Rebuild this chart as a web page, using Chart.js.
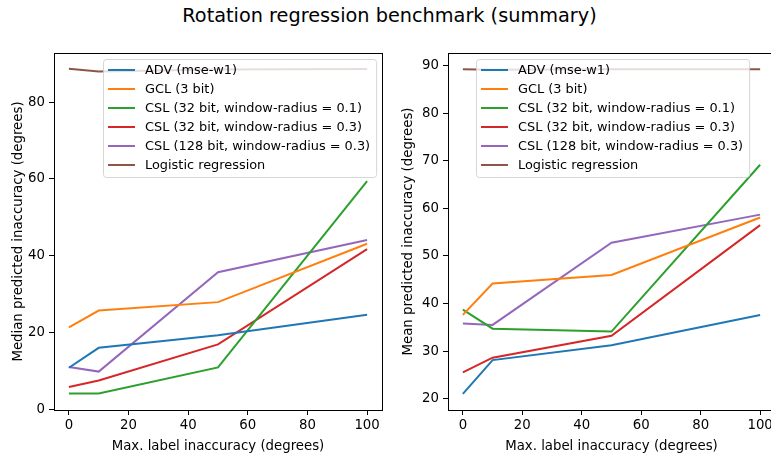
<!DOCTYPE html>
<html>
<head>
<meta charset="utf-8">
<script src="https://cdn.jsdelivr.net/npm/chart.js@4"></script>
<style>
  html, body { margin: 0; padding: 0; background: #fff; overflow: hidden; width: 771px; height: 455px; }
  #title { position: absolute; left: 0; top: 4px; width: 779px; text-align: center;
           font-family: "DejaVu Sans", sans-serif; font-size: 19.3px; color: #000; }
  canvas { position: absolute; top: 0; }
  #left { left: 0; }
  #right { left: 390px; }
</style>
</head>
<body>
<div id="title">Rotation regression benchmark (summary)</div>
<canvas id="left" width="390" height="455"></canvas>
<canvas id="right" width="400" height="455"></canvas>
<script>
// Max. label inaccuracy (x)
const labelNoise = [0, 10, 50, 100];
const seriesNames = [
  'ADV (mse-w1)',
  'GCL (3 bit)',
  'CSL (32 bit, window-radius = 0.1)',
  'CSL (32 bit, window-radius = 0.3)',
  'CSL (128 bit, window-radius = 0.3)',
  'Logistic regression'
];
const colors = ['#1f77b4', '#ff7f0e', '#2ca02c', '#d62728', '#9467bd', '#8c564b'];

// Median (left plot)
const medADV = [10.8, 16.0, 19.3, 24.6];
const medGCL = [21.3, 25.7, 27.9, 43.1];
const medCSL32a = [4.1, 4.1, 10.9, 59.4];
const medCSL32b = [5.8, 7.5, 16.9, 41.7];
const medCSL128 = [11.0, 9.8, 35.7, 44.1];
const medLogReg = [88.7, 88.0, 88.5, 88.6];

// Mean (right plot)
const meanADV = [21.0, 28.1, 31.2, 37.6];
const meanGCL = [37.6, 44.2, 46.0, 58.1];
const meanCSL32a = [38.7, 34.7, 34.1, 69.2];
const meanCSL32b = [25.5, 28.6, 33.2, 56.5];
const meanCSL128 = [35.8, 35.5, 52.8, 58.7];
const meanLogReg = [89.3, 89.2, 89.3, 89.3];

const xTicks = [0, 20, 40, 60, 80, 100];
const medYTicks = [0, 20, 40, 60, 80];
const meanYTicks = [20, 30, 40, 50, 60, 70, 80, 90];

const FONT = '"DejaVu Sans", sans-serif';

function makeDatasets(series) {
  return series.map((vals, i) => ({
    label: seriesNames[i],
    data: labelNoise.map((x, j) => ({ x: x, y: vals[j] })),
    borderColor: colors[i],
    backgroundColor: colors[i],
    borderWidth: 2,
    pointRadius: 0,
    tension: 0,
    fill: false
  }));
}

// frame + matplotlib-like legend inside the axes
const framePlugin = {
  id: 'frame',
  afterDatasetsDraw(chart) {
    const { ctx, chartArea: a } = chart;
    ctx.save();
    ctx.strokeStyle = '#000';
    ctx.lineWidth = 1;
    ctx.strokeRect(Math.round(a.left) + 0.5, Math.round(a.top) + 0.5,
                   Math.round(a.right - a.left), Math.round(a.bottom - a.top));
    // legend
    const opt = chart.options.plugins.mplLegend;
    const fs = 12.9;
    ctx.font = fs + 'px ' + FONT;
    const rowH = 19;
    let maxW = 0;
    chart.data.datasets.forEach(d => { maxW = Math.max(maxW, ctx.measureText(d.label).width); });
    const x0 = a.left + opt.dx, y0 = a.top + 6;
    const w = 42 + maxW + 6, h = rowH * chart.data.datasets.length + 4;
    ctx.beginPath();
    if (ctx.roundRect) ctx.roundRect(x0 + 0.5, y0 + 0.5, w, h, 3); else ctx.rect(x0 + 0.5, y0 + 0.5, w, h);
    ctx.fillStyle = 'rgba(255,255,255,0.8)';
    ctx.fill();
    ctx.strokeStyle = 'rgba(204,204,204,0.8)';
    ctx.stroke();
    ctx.textBaseline = 'middle';
    chart.data.datasets.forEach((d, i) => {
      const yy = y0 + 11 + i * rowH;
      ctx.strokeStyle = d.borderColor;
      ctx.lineWidth = 2;
      ctx.beginPath();
      ctx.moveTo(x0 + 5, yy);
      ctx.lineTo(x0 + 32, yy);
      ctx.stroke();
      ctx.fillStyle = '#000';
      ctx.fillText(d.label, x0 + 42, yy + 1);
    });
    ctx.restore();
  }
};

function makeChart(id, series, yTitle, yMin, yMax, yTicks, yWidth, legendDx, padRight, titlePad) {
  return new Chart(document.getElementById(id), {
    type: 'line',
    data: { datasets: makeDatasets(series) },
    options: {
      responsive: false,
      animation: false,
      layout: { padding: { top: 53, right: padRight, left: 0, bottom: 0 } },
      plugins: {
        legend: { display: false },
        tooltip: { enabled: false },
        mplLegend: { dx: legendDx }
      },
      scales: {
        x: {
          type: 'linear',
          min: -5, max: 105,
          afterBuildTicks: s => { s.ticks = xTicks.map(v => ({ value: v })); },
          afterFit: s => { s.height = 45; s.paddingLeft = 0; s.paddingRight = 0; },
          grid: { drawOnChartArea: false, tickLength: 5, tickColor: '#000', tickWidth: 1 },
          border: { color: '#000', width: 1 },
          ticks: { color: '#000', font: { family: FONT, size: 13.3 }, padding: 3, maxRotation: 0 },
          title: { display: true, text: 'Max. label inaccuracy (degrees)', color: '#000',
                   font: { family: FONT, size: 13.3 }, padding: { top: 1, bottom: 0 } }
        },
        y: {
          type: 'linear',
          min: yMin, max: yMax,
          afterBuildTicks: s => { s.ticks = yTicks.map(v => ({ value: v })); },
          afterFit: s => { s.width = yWidth; s.paddingTop = 0; s.paddingBottom = 0; },
          grid: { drawOnChartArea: false, tickLength: 5, tickColor: '#000', tickWidth: 1 },
          border: { color: '#000', width: 1 },
          ticks: { color: '#000', font: { family: FONT, size: 13.3 }, padding: 4 },
          title: { display: true, text: yTitle, color: '#000',
                   font: { family: FONT, size: 13.3 }, padding: { top: titlePad, bottom: 2 } }
        }
      }
    },
    plugins: [framePlugin]
  });
}

makeChart('left', [medADV, medGCL, medCSL32a, medCSL32b, medCSL128, medLogReg],
  'Median predicted inaccuracy (degrees)', -0.2, 92.8, medYTicks, 54, 49, 8, 11);
makeChart('right', [meanADV, meanGCL, meanCSL32a, meanCSL32b, meanCSL128, meanLogReg],
  'Mean predicted inaccuracy (degrees)', 17.6, 92.7, meanYTicks, 58, 28, 15, 11);
</script>
</body>
</html>
